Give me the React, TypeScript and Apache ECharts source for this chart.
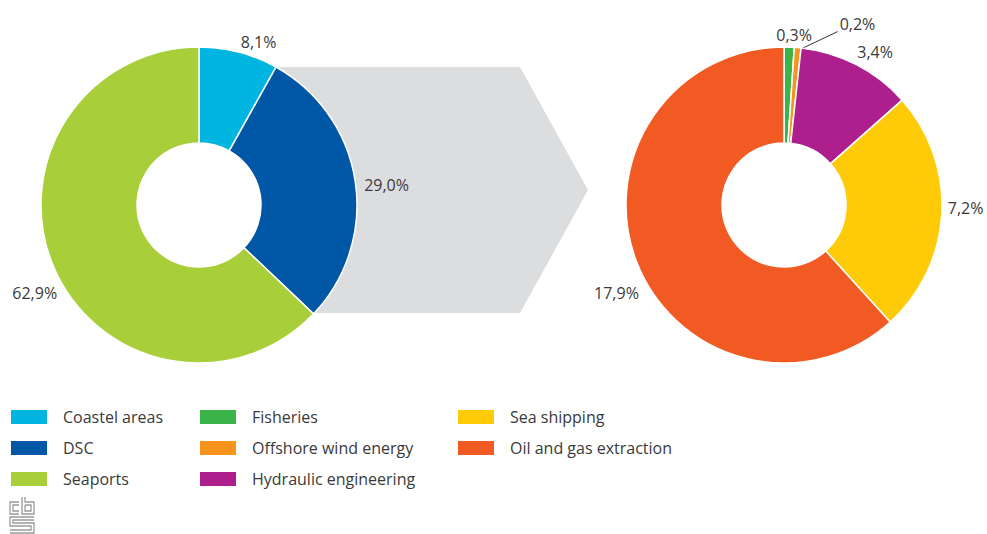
import React, { useEffect, useRef } from "react";
import * as echarts from "echarts";

const leftNames = ["Coastel areas", "DSC", "Seaports"];
const leftValues = [8.1, 29.0, 62.9];
const leftColors = ["#00B5E0", "#0057A6", "#A8CF3A"];

const rightNames = ["Fisheries", "Offshore wind energy", "Hydraulic engineering", "Sea shipping", "Oil and gas extraction"];
const rightValues = [0.3, 0.2, 3.4, 7.2, 17.9];
const rightColors = ["#3BB54A", "#F7941D", "#AC1F8D", "#FFCB08", "#F15A22"];

const legendCol1 = ["Coastel areas", "DSC", "Seaports"];
const legendCol2 = ["Fisheries", "Offshore wind energy", "Hydraulic engineering"];
const legendCol3 = ["Sea shipping", "Oil and gas extraction"];

const FONT = "'Open Sans', sans-serif";
const TXT = "#3a3a3a";

const fmt = (v: number) => v.toFixed(1).replace(".", ",") + "%";

// label fine-tuning offsets (per series, per data index)
const labelShift: Record<string, [number, number]> = {
  "0-0": [-4, -6],
  "0-1": [0, 4],
  "0-2": [12, 24],
  "1-0": [-18, -8],
  "1-2": [-6, -9],
  "1-3": [-3, -6],
  "1-4": [11, 30],
};

const makeLabelLayout = (seriesIndex: number) => (params: any) => {
  const key = seriesIndex + "-" + params.dataIndex;
  if (key === "1-1") {
    const p0 = params.labelLinePoints ? params.labelLinePoints[0] : [797.7, 47.6];
    return {
      x: p0[0] + 42,
      y: p0[1] - 24,
      align: "left",
      verticalAlign: "middle",
      labelLinePoints: [
        [p0[0] + 2, p0[1] + 2],
        [p0[0] + 40, p0[1] - 16],
        [p0[0] + 40, p0[1] - 16],
      ],
    };
  }
  const s = labelShift[key];
  if (s) return { dx: s[0], dy: s[1] };
  return {};
};

export default function App() {
  const ref = useRef<HTMLDivElement>(null);
  useEffect(() => {
    if (!ref.current) return;
    const chart = echarts.init(ref.current, undefined, { renderer: "svg" });
    const legendBase = {
      orient: "vertical" as const,
      top: 403,
      itemWidth: 38,
      itemHeight: 16,
      itemGap: 13,
      icon: "rect",
      selectedMode: false,
      textStyle: { fontFamily: FONT, fontSize: 16, color: TXT, padding: [0, 0, 0, 10] },
    };
    const pieBase = {
      type: "pie" as const,
      radius: [62, 158],
      startAngle: 90,
      clockwise: true,
      avoidLabelOverlap: false,
      itemStyle: { borderColor: "#ffffff", borderWidth: 1.5 },
      label: {
        show: true,
        position: "outside" as const,
        formatter: (p: any) => fmt(p.value),
        fontFamily: FONT,
        fontSize: 16,
        color: TXT,
      },
      labelLine: { show: false, length: 4, length2: 0 },
      emphasis: { disabled: true },
    };
    const line = { stroke: "#9a9a9a", lineWidth: 1.3, fill: "none" };
    chart.setOption({
      animation: false,
      graphic: [
        {
          type: "polygon",
          z: 0,
          shape: { points: [[270, 67], [520, 67], [588, 190], [520, 313], [270, 313]] },
          style: { fill: "#DCDDDF" },
        },
        {
          type: "group",
          z: 10,
          children: [
            { type: "polyline", shape: { points: [[19, 502], [10, 502], [10, 514], [19, 514]] }, style: line },
            { type: "polyline", shape: { points: [[19, 505], [13, 505], [13, 511], [19, 511]] }, style: line },
            { type: "polyline", shape: { points: [[22, 497], [22, 514], [34, 514], [34, 502], [25, 502], [25, 497]] }, style: line },
            { type: "polyline", shape: { points: [[25, 505], [31, 505], [31, 511], [25, 511], [25, 505]] }, style: line },
            { type: "polyline", shape: { points: [[34, 517], [10, 517], [10, 526], [31, 526], [31, 530], [10, 530]] }, style: line },
            { type: "polyline", shape: { points: [[34, 520], [13, 520], [13, 523], [34, 523], [34, 533], [10, 533]] }, style: line },
          ],
        },
      ],
      legend: [
        { ...legendBase, left: 4, data: legendCol1 },
        { ...legendBase, left: 193, data: legendCol2 },
        { ...legendBase, left: 451, data: legendCol3 },
      ],
      series: [
        {
          ...pieBase,
          name: "left",
          center: [199, 205],
          labelLayout: makeLabelLayout(0),
          data: leftNames.map((n, i) => ({ name: n, value: leftValues[i], itemStyle: { color: leftColors[i] } })),
        },
        {
          ...pieBase,
          name: "right",
          center: [784, 205],
          labelLayout: makeLabelLayout(1),
          data: rightNames.map((n, i) => ({
            name: n,
            value: rightValues[i],
            itemStyle: { color: rightColors[i] },
            labelLine: i === 1 ? { show: true, length: 4, length2: 0, lineStyle: { color: "#333", width: 1 } } : undefined,
          })),
        },
      ],
    });
    return () => chart.dispose();
  }, []);
  return <div ref={ref} style={{ position: "absolute", left: 0, top: 0, width: 987, height: 534 }} />;
}
